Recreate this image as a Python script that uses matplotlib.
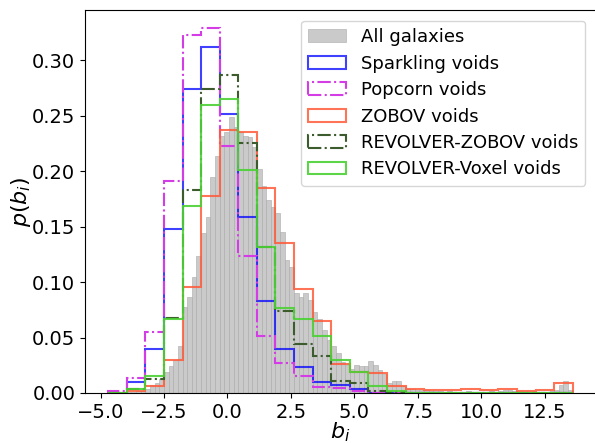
import numpy as np
import matplotlib
matplotlib.use('Agg')
import matplotlib.pyplot as plt
from matplotlib.ticker import MultipleLocator

# bin edges
b_min, b_max = -4.70, 13.61
coarse_edges = np.linspace(b_min, b_max, 26)
fine_edges = np.linspace(b_min, b_max, 101)

# all galaxies, density per fine bin
all_gal = [0, 0, 0, 0.0005, 0.001, 0.001, 0.002, 0.002,
           0.004, 0.007, 0.009, 0.013, 0.019, 0.024, 0.030, 0.042,
           0.078, 0.087, 0.105, 0.124, 0.144, 0.159, 0.195, 0.214,
           0.232, 0.235, 0.249, 0.240, 0.235, 0.232, 0.231, 0.222,
           0.202, 0.187, 0.174, 0.168, 0.162, 0.145, 0.120, 0.114,
           0.090, 0.087, 0.090, 0.084, 0.073, 0.067, 0.057, 0.048,
           0.042, 0.036, 0.028, 0.025, 0.022, 0.025, 0.024, 0.024,
           0.029, 0.025, 0.021, 0.017, 0.009, 0.011, 0.011, 0.006,
           0.004, 0.004, 0.003, 0.003, 0.003, 0.002, 0.002, 0.002,
           0.001, 0.002, 0.001, 0.001, 0.001, 0.002, 0.001, 0.001,
           0.001, 0.001, 0.002, 0.001, 0.002, 0.003, 0.003, 0.002,
           0.001, 0.001, 0.001, 0.001, 0.001, 0.001, 0.001, 0.002,
           0.003, 0.007, 0.011, 0.003]

sparkling = [0, 0.010, 0.040, 0.148, 0.274, 0.312, 0.252, 0.159, 0.083, 0.040,
             0.023, 0.0096, 0.007, 0.0036, 0, 0, 0, 0, 0, 0, 0, 0, 0, 0, 0]
popcorn = [0.002, 0.0138, 0.055, 0.191, 0.323, 0.329, 0.2225, 0.124, 0.051, 0.027,
           0.0153, 0.0057, 0.0048, 0.002, 0, 0, 0, 0, 0, 0, 0, 0, 0, 0, 0]
zobov = [0, 0.002, 0.006, 0.030, 0.096, 0.178, 0.237, 0.235, 0.185, 0.135,
         0.094, 0.065, 0.026, 0.019, 0.018, 0.0063, 0.0039, 0.0027, 0.0027, 0.0039,
         0.003, 0.0039, 0.0018, 0.0027, 0.009]
rev_zobov = [0, 0.004, 0.013, 0.068, 0.183, 0.274, 0.287, 0.2255, 0.132, 0.074,
             0.044, 0.033, 0.011, 0.0093, 0.002, 0.001, 0, 0, 0, 0, 0, 0, 0, 0, 0]
rev_voxel = [0, 0.004, 0.015, 0.067, 0.169, 0.260, 0.265, 0.2015, 0.132, 0.077,
             0.067, 0.051, 0.030, 0.019, 0.0063, 0.002, 0, 0, 0, 0, 0, 0, 0, 0, 0]

fine_c = 0.5 * (fine_edges[:-1] + fine_edges[1:])
coarse_c = 0.5 * (coarse_edges[:-1] + coarse_edges[1:])

fig = plt.figure(figsize=(5.95, 4.43), dpi=100)
ax = fig.add_axes([85/595, 50/443, 511/595, 383/443])

ax.hist(fine_c, bins=fine_edges, weights=all_gal, color='#cacaca', ec='#a9a9a9', lw=0.4,
        label='All galaxies')
ax.hist(coarse_c, bins=coarse_edges, weights=sparkling, histtype='step', lw=1.5,
        color='blue', alpha=0.75, label='Sparkling voids')
ax.hist(coarse_c, bins=coarse_edges, weights=popcorn, histtype='step', lw=1.5, ls='-.',
        color='#d43de6', label='Popcorn voids')
ax.hist(coarse_c, bins=coarse_edges, weights=zobov, histtype='step', lw=1.5,
        color='#ff5a3a', alpha=0.85, label='ZOBOV voids')
ax.hist(coarse_c, bins=coarse_edges, weights=rev_zobov, histtype='step', lw=1.5, ls='-.',
        color='#3d5c2e', label='REVOLVER-ZOBOV voids')
ax.hist(coarse_c, bins=coarse_edges, weights=rev_voxel, histtype='step', lw=1.5,
        color='#4cd134', alpha=0.9, label='REVOLVER-Voxel voids')

ax.xaxis.set_major_locator(MultipleLocator(2.5))
ax.set_xlabel('$b_i$', fontsize=16, labelpad=-1)
ax.set_ylabel('$p(b_i)$', fontsize=16, labelpad=-1)
ax.tick_params(labelsize=14)
ax.legend(fontsize=13, loc='upper right', handlelength=2.1, labelspacing=0.47,
          borderaxespad=0.6)

fig.savefig('out.png', dpi=100)
